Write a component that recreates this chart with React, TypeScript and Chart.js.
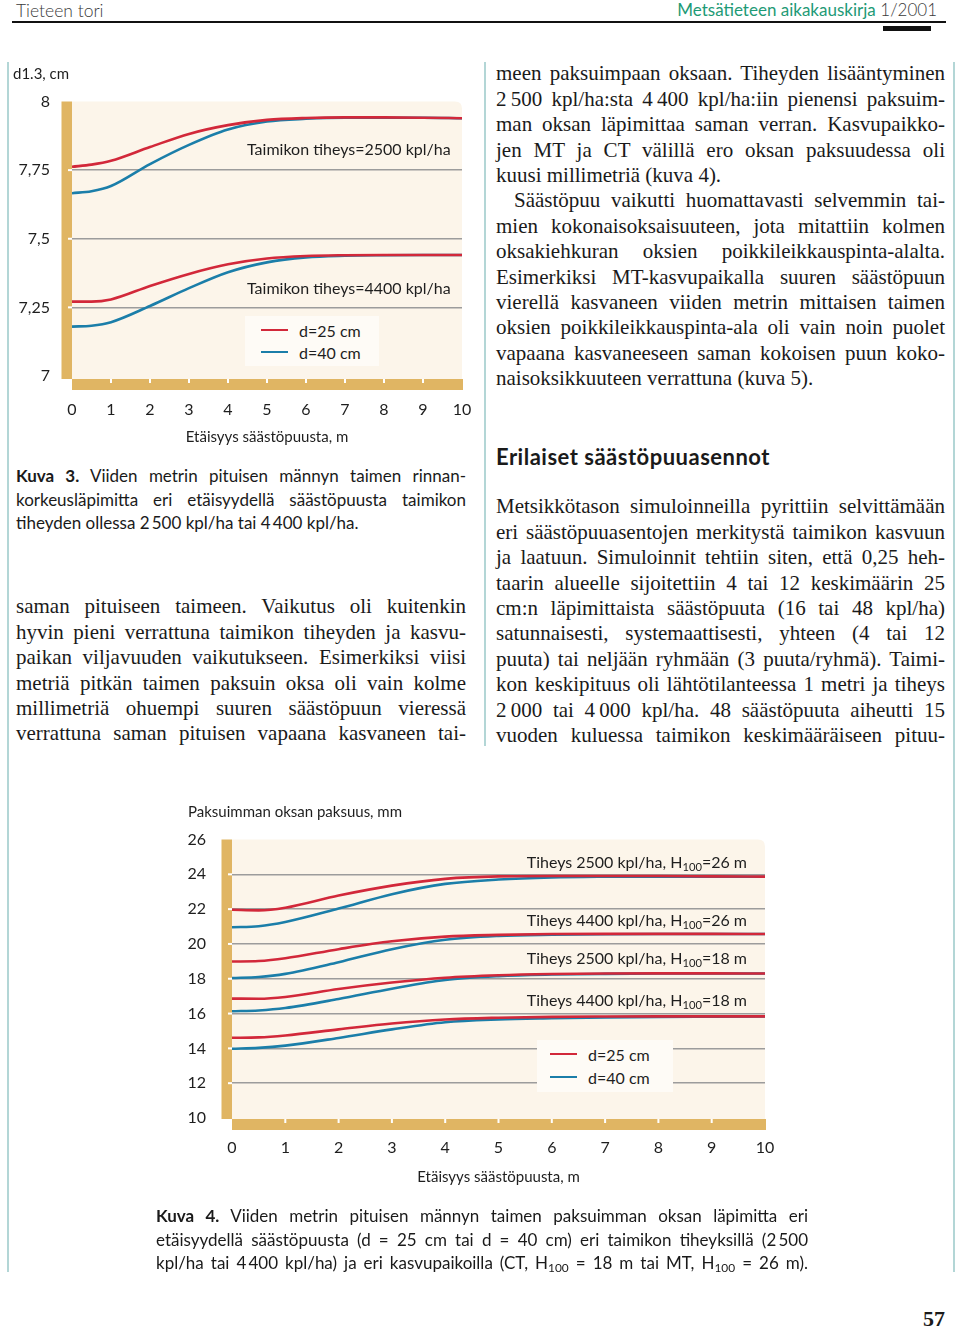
import React, { useEffect, useRef } from "react";
import { Chart, registerables } from "chart.js";

Chart.register(...registerables);

// ---------- DATA ----------
const distances = [0, 0.5, 1, 2, 3, 4, 5, 6, 7, 8, 9, 10];
const xTickValues = [0, 1, 2, 3, 4, 5, 6, 7, 8, 9, 10];

// Kuva 3: d1.3, cm
const k3Tiheys2500_d25 = [7.762, 7.77, 7.784, 7.834, 7.882, 7.914, 7.933, 7.94, 7.942, 7.942, 7.941, 7.939];
const k3Tiheys2500_d40 = [7.666, 7.673, 7.692, 7.772, 7.842, 7.898, 7.927, 7.937, 7.941, 7.941, 7.941, 7.939];
const k3Tiheys4400_d25 = [7.271, 7.271, 7.279, 7.328, 7.372, 7.407, 7.428, 7.437, 7.44, 7.441, 7.441, 7.441];
const k3Tiheys4400_d40 = [7.18, 7.183, 7.196, 7.255, 7.32, 7.378, 7.414, 7.432, 7.438, 7.44, 7.441, 7.441];
const k3YTicks = [7, 7.25, 7.5, 7.75, 8];
const k3GridValues = [7.25, 7.5, 7.75];

// Kuva 4: paksuimman oksan paksuus, mm
const k4T2500H26_d25 = [21.96, 21.93, 22.08, 22.78, 23.35, 23.74, 23.88, 23.9, 23.9, 23.9, 23.88, 23.87];
const k4T2500H26_d40 = [20.96, 21.02, 21.26, 22.03, 22.86, 23.45, 23.7, 23.82, 23.86, 23.87, 23.87, 23.86];
const k4T4400H26_d25 = [18.99, 19.02, 19.18, 19.7, 20.15, 20.42, 20.52, 20.57, 20.58, 20.58, 20.58, 20.57];
const k4T4400H26_d40 = [18.04, 18.1, 18.28, 18.95, 19.7, 20.24, 20.46, 20.53, 20.56, 20.57, 20.57, 20.57];
const k4T2500H18_d25 = [16.86, 16.85, 16.95, 17.41, 17.78, 18.06, 18.2, 18.27, 18.3, 18.31, 18.31, 18.3];
const k4T2500H18_d40 = [16.13, 16.18, 16.32, 16.84, 17.43, 17.93, 18.15, 18.24, 18.28, 18.3, 18.3, 18.3];
const k4T4400H18_d25 = [14.61, 14.63, 14.74, 15.09, 15.43, 15.66, 15.76, 15.81, 15.83, 15.84, 15.84, 15.84];
const k4T4400H18_d40 = [13.98, 14.03, 14.16, 14.6, 15.09, 15.5, 15.66, 15.73, 15.78, 15.81, 15.82, 15.83];
const k4YTicks = [10, 12, 14, 16, 18, 20, 22, 24, 26];
const k4GridValues = [12, 14, 16, 18, 20, 22, 24];

// ---------- STYLE ----------
const RED = "#d2283a";
const BLUE = "#1b7ea9";
const GOLD = "#e0b563";
const CREAM = "#fcf5ea";
const GRID = "#9c9c9c";
const TEAL_RULE = "#b3d6d6";
const CHART_FONT = "Lato, 'Open Sans', sans-serif";

Chart.defaults.font.family = CHART_FONT;
Chart.defaults.color = "#1e1e1e";

function makeDecor(barGap: number, gridValues: number[]) {
  return {
    id: "decor",
    beforeDraw(chart: any) {
      const { ctx, chartArea: a, scales } = chart;
      ctx.save();
      ctx.fillStyle = CREAM;
      const r = 7;
      ctx.beginPath();
      ctx.moveTo(a.left, a.top);
      ctx.lineTo(a.right - r, a.top);
      ctx.quadraticCurveTo(a.right, a.top, a.right, a.top + r);
      ctx.lineTo(a.right, a.bottom + barGap);
      ctx.lineTo(a.left, a.bottom + barGap);
      ctx.closePath();
      ctx.fill();
      ctx.fillStyle = GOLD;
      ctx.fillRect(a.left - 10.5, a.top, 10.5, a.bottom + barGap - a.top);
      ctx.fillRect(a.left, a.bottom + barGap, a.right - a.left + 1, 11);
      ctx.fillStyle = "#ffffff";
      for (const v of gridValues) {
        const y = scales.y.getPixelForValue(v);
        ctx.fillRect(a.left - 4, y - 1, 4, 2);
      }
      for (const v of xTickValues) {
        if (v === xTickValues[0] || v === xTickValues[xTickValues.length - 1]) continue;
        const x = scales.x.getPixelForValue(v);
        ctx.fillRect(x - 1, a.bottom + barGap, 2, 4);
      }
      ctx.restore();
    },
  };
}

type Series = { values: number[]; color: string };

function makeConfig(o: {
  series: Series[];
  yMin: number;
  yMax: number;
  yTicks: number[];
  gridValues: number[];
  yFmt: (v: number) => string;
  yAxisWidth: number;
  yLabelPad: number;
  padTop: number;
  padRight: number;
  xAxisHeight: number;
  xTickPad: number;
  xTitlePadBottom: number;
  barGap: number;
}): any {
  return {
    type: "line",
    data: {
      datasets: o.series.map((s) => ({
        data: distances.map((x, i) => ({ x, y: s.values[i] })),
        borderColor: s.color,
        borderWidth: 2.6,
        pointRadius: 0,
        fill: false,
        cubicInterpolationMode: "monotone",
      })),
    },
    options: {
      responsive: false,
      animation: false,
      events: [],
      layout: { padding: { left: 0, top: o.padTop, right: o.padRight, bottom: 0 } },
      plugins: { legend: { display: false }, tooltip: { enabled: false }, title: { display: false } },
      scales: {
        x: {
          type: "linear",
          min: 0,
          max: 10,
          afterBuildTicks: (s: any) => {
            s.ticks = xTickValues.map((v) => ({ value: v }));
          },
          afterFit: (s: any) => {
            s.height = o.xAxisHeight;
            s.paddingLeft = 0;
            s.paddingRight = 0;
          },
          grid: { display: false, drawTicks: false },
          border: { display: false },
          ticks: { padding: o.xTickPad, font: { size: 16 }, color: "#1e1e1e", maxRotation: 0, autoSkip: false },
          title: {
            display: true,
            text: "Etäisyys säästöpuusta, m",
            font: { size: 15 },
            color: "#1e1e1e",
            padding: { top: 0, bottom: o.xTitlePadBottom },
          },
        },
        y: {
          type: "linear",
          min: o.yMin,
          max: o.yMax,
          afterBuildTicks: (s: any) => {
            s.ticks = o.yTicks.map((v) => ({ value: v }));
          },
          afterFit: (s: any) => {
            s.width = o.yAxisWidth;
            s.paddingTop = 0;
            s.paddingBottom = 0;
          },
          grid: {
            drawTicks: false,
            lineWidth: 1.5,
            color: (c: any) =>
              c.tick && o.gridValues.some((g) => Math.abs(g - c.tick.value) < 1e-6) ? GRID : "rgba(0,0,0,0)",
          },
          border: { display: false },
          ticks: {
            padding: o.yLabelPad,
            font: { size: 16 },
            color: "#1e1e1e",
            callback: (v: any) => o.yFmt(Number(v)),
          },
        },
      },
    },
    plugins: [makeDecor(o.barGap, o.gridValues)],
  };
}

// ---------- TEXT ----------
const leftColLines = [
  "saman pituiseen taimeen. Vaikutus oli kuitenkin",
  "hyvin pieni verrattuna taimikon tiheyden ja kasvu-",
  "paikan viljavuuden vaikutukseen. Esimerkiksi viisi",
  "metriä pitkän taimen paksuin oksa oli vain kolme",
  "millimetriä ohuempi suuren säästöpuun vieressä",
  "verrattuna saman pituisen vapaana kasvaneen tai-",
];

const rightColLines: { t: string; last?: boolean; indent?: boolean }[] = [
  { t: "meen paksuimpaan oksaan. Tiheyden lisääntyminen" },
  { t: "2\u2009500 kpl/ha:sta 4\u2009400 kpl/ha:iin pienensi paksuim-" },
  { t: "man oksan läpimittaa saman verran. Kasvupaikko-" },
  { t: "jen MT ja CT välillä ero oksan paksuudessa oli" },
  { t: "kuusi millimetriä (kuva 4).", last: true },
  { t: "Säästöpuu vaikutti huomattavasti selvemmin tai-", indent: true },
  { t: "mien kokonaisoksaisuuteen, jota mitattiin kolmen" },
  { t: "oksakiehkuran oksien poikkileikkauspinta-alalta." },
  { t: "Esimerkiksi MT-kasvupaikalla suuren säästöpuun" },
  { t: "vierellä kasvaneen viiden metrin mittaisen taimen" },
  { t: "oksien poikkileikkauspinta-ala oli vain noin puolet" },
  { t: "vapaana kasvaneeseen saman kokoisen puun koko-" },
  { t: "naisoksikkuuteen verrattuna (kuva 5).", last: true },
];

const rightCol2Lines = [
  "Metsikkötason simuloinneilla pyrittiin selvittämään",
  "eri säästöpuuasentojen merkitystä taimikon kasvuun",
  "ja laatuun. Simuloinnit tehtiin siten, että 0,25 heh-",
  "taarin alueelle sijoitettiin 4 tai 12 keskimäärin 25",
  "cm:n läpimittaista säästöpuuta (16 tai 48 kpl/ha)",
  "satunnaisesti, systemaattisesti, yhteen (4 tai 12",
  "puuta) tai neljään ryhmään (3 puuta/ryhmä). Taimi-",
  "kon keskipituus oli lähtötilanteessa 1 metri ja tiheys",
  "2\u2009000 tai 4\u2009000 kpl/ha. 48 säästöpuuta aiheutti 15",
  "vuoden kuluessa taimikon keskimääräiseen pituu-",
];

const SERIF = "'Liberation Serif', 'Times New Roman', serif";
const BODY_LH = 25.4;

const bodyStyle: React.CSSProperties = {
  fontFamily: SERIF,
  fontSize: 21,
  lineHeight: `${BODY_LH}px`,
  color: "#1a1a1a",
  whiteSpace: "normal",
};

const capStyle: React.CSSProperties = {
  fontFamily: CHART_FONT,
  fontSize: 17,
  lineHeight: "23.4px",
  color: "#1a1a1a",
};

function JLine(props: {
  left: number;
  width: number;
  cy: number;
  lh: number;
  last?: boolean;
  style: React.CSSProperties;
  children: React.ReactNode;
}) {
  return (
    <div
      style={{
        ...props.style,
        position: "absolute",
        left: props.left,
        width: props.width,
        top: props.cy - props.lh / 2,
        height: props.lh,
        textAlign: "justify",
        textAlignLast: props.last ? "left" : "justify",
        overflow: "visible",
      }}
    >
      {props.children}
    </div>
  );
}

function Label(props: {
  left?: number;
  right?: number;
  cy: number;
  size: number;
  children: React.ReactNode;
  weight?: number;
  color?: string;
  family?: string;
  spacing?: number;
}) {
  const lh = Math.round(props.size * 1.3);
  return (
    <div
      style={{
        position: "absolute",
        left: props.left,
        right: props.right,
        top: props.cy - lh / 2,
        lineHeight: `${lh}px`,
        fontSize: props.size,
        fontFamily: props.family || CHART_FONT,
        fontWeight: props.weight || 400,
        color: props.color || "#1e1e1e",
        letterSpacing: props.spacing ? `${props.spacing}px` : undefined,
        whiteSpace: "nowrap",
      }}
    >
      {props.children}
    </div>
  );
}

function LegendBox(props: { left: number; top: number; width: number; height: number; redY: number; blueY: number; lineX: number; textX: number }) {
  return (
    <>
      <div
        style={{
          position: "absolute",
          left: props.left,
          top: props.top,
          width: props.width,
          height: props.height,
          background: "#fefbf6",
        }}
      />
      <div style={{ position: "absolute", left: props.lineX, top: props.redY - 1.3, width: 27, height: 2.6, background: RED }} />
      <div style={{ position: "absolute", left: props.lineX, top: props.blueY - 1.3, width: 27, height: 2.6, background: BLUE }} />
      <Label left={props.textX} cy={props.redY} size={16}>d=25 cm</Label>
      <Label left={props.textX} cy={props.blueY} size={16}>d=40 cm</Label>
    </>
  );
}

const Sub = (p: { children: React.ReactNode }) => (
  <span style={{ fontSize: "0.7em", verticalAlign: "-0.25em" }}>{p.children}</span>
);

export default function App() {
  const c1 = useRef<HTMLCanvasElement>(null);
  const c2 = useRef<HTMLCanvasElement>(null);

  useEffect(() => {
    const ch1 = new Chart(
      c1.current as HTMLCanvasElement,
      makeConfig({
        series: [
          { values: k3Tiheys2500_d25, color: RED },
          { values: k3Tiheys4400_d25, color: RED },
          { values: k3Tiheys2500_d40, color: BLUE },
          { values: k3Tiheys4400_d40, color: BLUE },
        ],
        yMin: 7,
        yMax: 8,
        yTicks: k3YTicks,
        gridValues: k3GridValues,
        yFmt: (v) => String(v).replace(".", ","),
        yAxisWidth: 72,
        yLabelPad: 22,
        padTop: 41.5,
        padRight: 18,
        xAxisHeight: 84,
        xTickPad: 24.4,
        xTitlePadBottom: 14,
        barGap: 3,
      })
    );
    const ch2 = new Chart(
      c2.current as HTMLCanvasElement,
      makeConfig({
        series: [
          { values: k4T2500H26_d25, color: RED },
          { values: k4T4400H26_d25, color: RED },
          { values: k4T2500H18_d25, color: RED },
          { values: k4T4400H18_d25, color: RED },
          { values: k4T2500H26_d40, color: BLUE },
          { values: k4T4400H26_d40, color: BLUE },
          { values: k4T2500H18_d40, color: BLUE },
          { values: k4T4400H18_d40, color: BLUE },
        ],
        yMin: 10,
        yMax: 26,
        yTicks: k4YTicks,
        gridValues: k4GridValues,
        yFmt: (v) => String(v),
        yAxisWidth: 62,
        yLabelPad: 26,
        padTop: 49.5,
        padRight: 25,
        xAxisHeight: 92,
        xTickPad: 20.4,
        xTitlePadBottom: 24,
        barGap: 1,
      })
    );
    return () => {
      ch1.destroy();
      ch2.destroy();
    };
  }, []);

  return (
    <div style={{ position: "absolute", left: 0, top: 0, width: 960, height: 1329, background: "#ffffff", overflow: "hidden" }}>
      {/* header */}
      <Label left={16} cy={10} size={17.5} color="#3a3a3a" weight={300}>Tieteen tori</Label>
      <Label right={23} cy={10} size={17} color="#3a3a3a" weight={300}>
        <span style={{ color: "#1e9a76", fontWeight: 400 }}>Metsätieteen aikakauskirja</span> 1/2001
      </Label>
      <div style={{ position: "absolute", left: 12, top: 21, width: 934, height: 2, background: "#111" }} />
      <div style={{ position: "absolute", left: 883, top: 26, width: 48, height: 5, background: "#111" }} />

      {/* column rules */}
      <div style={{ position: "absolute", left: 7, top: 62, width: 1.5, height: 1210, background: TEAL_RULE }} />
      <div style={{ position: "absolute", left: 953, top: 62, width: 1.5, height: 1210, background: TEAL_RULE }} />
      <div style={{ position: "absolute", left: 484, top: 62, width: 1.5, height: 684, background: TEAL_RULE }} />

      {/* Kuva 3 chart */}
      <canvas ref={c1} width={480} height={400} style={{ position: "absolute", left: 0, top: 60, width: 480, height: 400 }} />
      <Label left={13} cy={73} size={15}>d1.3, cm</Label>
      <Label left={247} cy={148} size={16}>Taimikon tiheys=2500 kpl/ha</Label>
      <Label left={247} cy={287} size={16}>Taimikon tiheys=4400 kpl/ha</Label>
      <LegendBox left={245} top={316} width={134} height={50} redY={330} blueY={352} lineX={261} textX={299} />

      {/* Kuva 3 caption */}
      <JLine left={16} width={450} cy={476} lh={23.4} style={capStyle}>
        <b>Kuva 3.</b> Viiden metrin pituisen männyn taimen rinnan-
      </JLine>
      <JLine left={16} width={450} cy={499.4} lh={23.4} style={capStyle}>
        korkeusläpimitta eri etäisyydellä säästöpuusta taimikon
      </JLine>
      <JLine left={16} width={450} cy={522.8} lh={23.4} style={capStyle} last>
        tiheyden ollessa 2{"\u2009"}500 kpl/ha tai 4{"\u2009"}400 kpl/ha.
      </JLine>

      {/* left column body */}
      {leftColLines.map((t, i) => (
        <JLine key={"l" + i} left={16} width={450} cy={607 + i * BODY_LH} lh={BODY_LH} style={bodyStyle}>
          {t}
        </JLine>
      ))}

      {/* right column body */}
      {rightColLines.map((l, i) => (
        <JLine
          key={"r" + i}
          left={l.indent ? 514 : 496}
          width={l.indent ? 431 : 449}
          cy={74 + i * BODY_LH}
          lh={BODY_LH}
          style={bodyStyle}
          last={l.last}
        >
          {l.t}
        </JLine>
      ))}
      <Label left={496} cy={456} size={22} weight={700} color="#1a1a1a" spacing={0.5}>Erilaiset säästöpuuasennot</Label>
      {rightCol2Lines.map((t, i) => (
        <JLine key={"r2" + i} left={496} width={449} cy={507 + i * BODY_LH} lh={BODY_LH} style={bodyStyle}>
          {t}
        </JLine>
      ))}

      {/* Kuva 4 chart */}
      <canvas ref={c2} width={620} height={420} style={{ position: "absolute", left: 170, top: 790, width: 620, height: 420 }} />
      <Label left={188} cy={811} size={15}>Paksuimman oksan paksuus, mm</Label>
      <Label right={213} cy={861} size={16}>Tiheys 2500 kpl/ha, H<Sub>100</Sub>=26 m</Label>
      <Label right={213} cy={919} size={16}>Tiheys 4400 kpl/ha, H<Sub>100</Sub>=26 m</Label>
      <Label right={213} cy={957} size={16}>Tiheys 2500 kpl/ha, H<Sub>100</Sub>=18 m</Label>
      <Label right={213} cy={999} size={16}>Tiheys 4400 kpl/ha, H<Sub>100</Sub>=18 m</Label>
      <LegendBox left={537} top={1040} width={136} height={52} redY={1054} blueY={1077} lineX={550} textX={588} />

      {/* Kuva 4 caption */}
      <JLine left={156} width={652} cy={1216} lh={23.4} style={capStyle}>
        <b>Kuva 4.</b> Viiden metrin pituisen männyn taimen paksuimman oksan läpimitta eri
      </JLine>
      <JLine left={156} width={652} cy={1239.4} lh={23.4} style={capStyle}>
        etäisyydellä säästöpuusta (d = 25 cm tai d = 40 cm) eri taimikon tiheyksillä (2{"\u2009"}500
      </JLine>
      <JLine left={156} width={652} cy={1262.8} lh={23.4} style={capStyle}>
        kpl/ha tai 4{"\u2009"}400 kpl/ha) ja eri kasvupaikoilla (CT, H<Sub>100</Sub> = 18 m tai MT, H<Sub>100</Sub> = 26 m).
      </JLine>

      {/* page number */}
      <Label left={923} cy={1318} size={22} weight={700} family={SERIF} color="#1a1a1a">57</Label>
    </div>
  );
}
